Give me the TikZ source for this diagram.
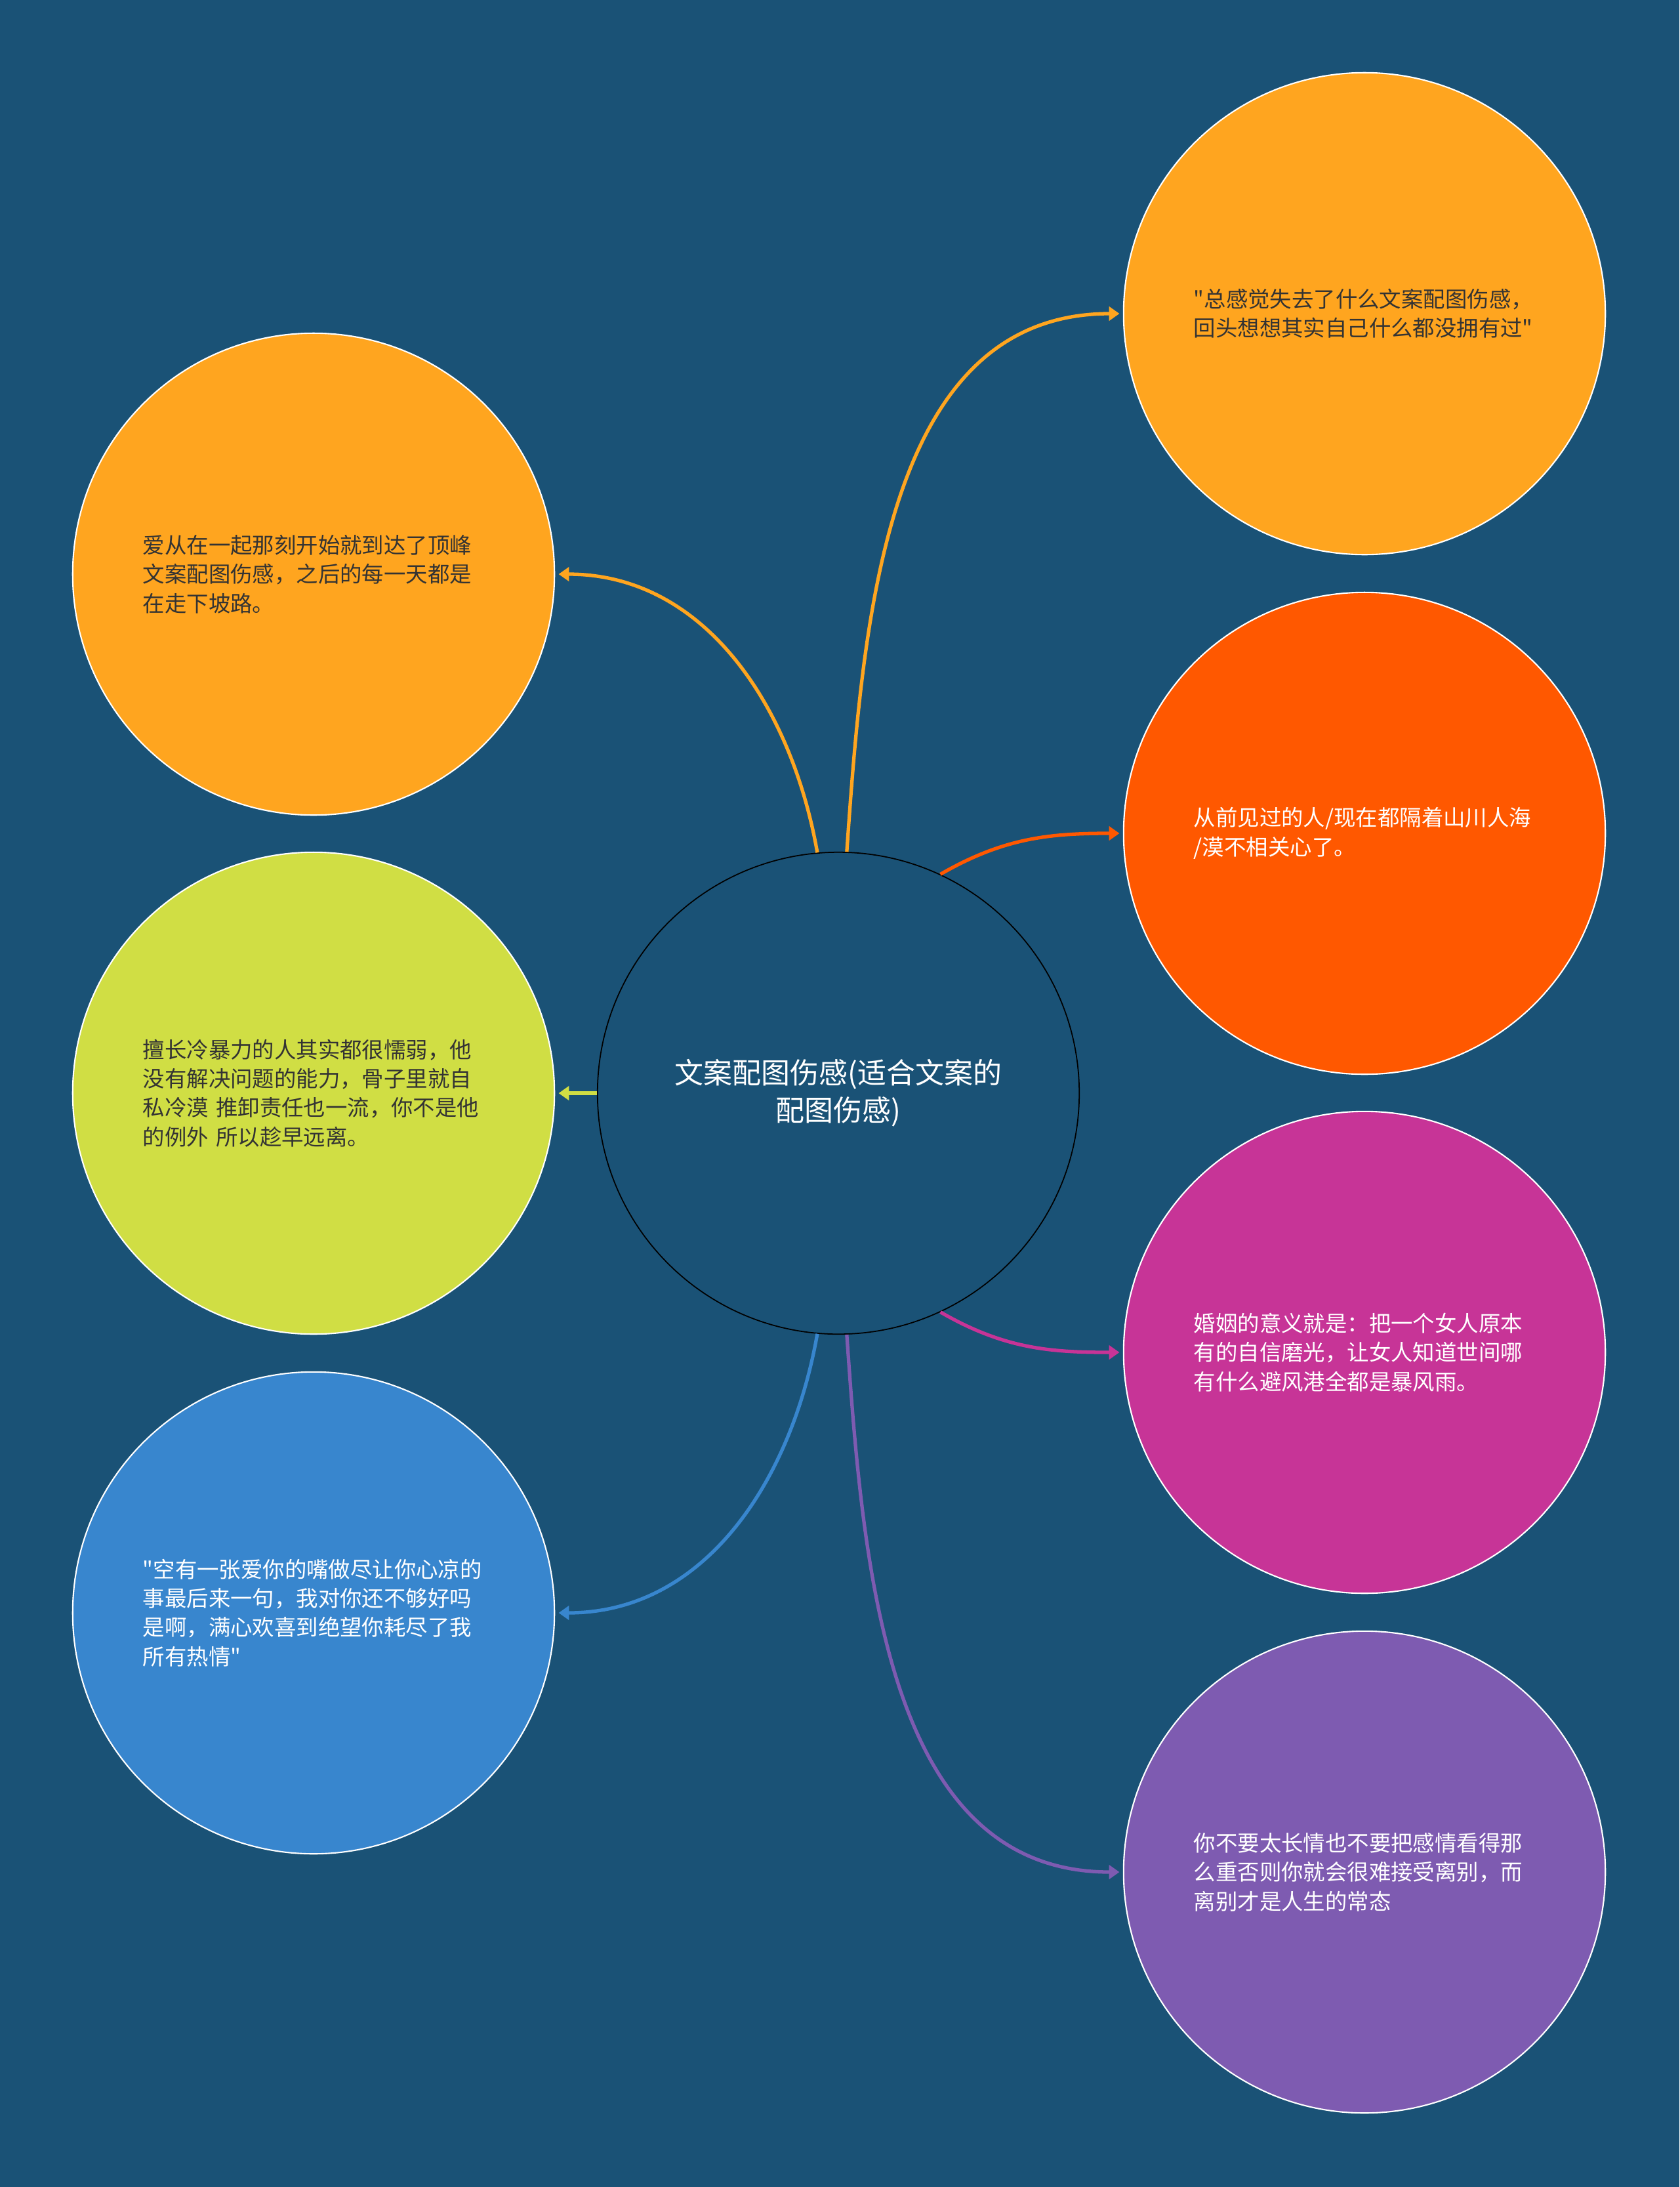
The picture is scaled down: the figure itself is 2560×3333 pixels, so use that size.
\documentclass[tikz,border=0pt]{standalone}
\usepackage{fontspec}
\usepackage{tikz}
\usetikzlibrary{arrows.meta}
\setmainfont{Noto Sans CJK SC}[Ligatures=TeXOff]

\definecolor{bgblue}{HTML}{1A5276}
\definecolor{orangeA}{HTML}{FFA51F}
\definecolor{redA}{HTML}{FF5800}
\definecolor{limeA}{HTML}{D0DE44}
\definecolor{magA}{HTML}{C73497}
\definecolor{blueA}{HTML}{3886CE}
\definecolor{purpA}{HTML}{7E5BB1}
\definecolor{darktext}{HTML}{333333}

\begin{document}
\begin{tikzpicture}[x=0.01cm, y=0.01cm,
    root/.style={circle, draw=black, line width=0.5pt, fill=bgblue, minimum size=7.34cm, inner sep=0pt,
        text=white, align=center, font=\fontsize{12.5}{16.3}\selectfont},
    bubble/.style={circle, draw=white, line width=0.6pt, minimum size=7.34cm, inner sep=0pt,
        text width=5.2cm, align=left, font=\fontsize{9.5}{12.6}\selectfont},
    link/.style={line width=1.5pt, -{Triangle[length=4.5pt, width=6pt]}, shorten >=1.5pt}]
            % Background
            \fill[bgblue] (0,0) rectangle (2560,-3333);

            % Nodes
            \node[root] (root) at (1278,-1666) {文案配图伤感(适合文案的\\配图伤感)};
            \node[bubble, fill=orangeA, text=darktext] (n1) at (478,-875) {爱从在一起那刻开始就到达了顶峰\\文案配图伤感，之后的每一天都是\\在走下坡路。};
            \node[bubble, fill=limeA, text=darktext] (n2) at (478,-1666) {擅长冷暴力的人其实都很懦弱，他\\没有解决问题的能力，骨子里就自\\私冷漠 推卸责任也一流，你不是他\\的例外 所以趁早远离。};
            \node[bubble, fill=blueA, text=white] (n3) at (478,-2458) {"空有一张爱你的嘴做尽让你心凉的\\事最后来一句，我对你还不够好吗\\是啊，满心欢喜到绝望你耗尽了我\\所有热情"};
            \node[bubble, fill=orangeA, text=darktext] (n4) at (2080,-478) {"总感觉失去了什么文案配图伤感，\\回头想想其实自己什么都没拥有过"};
            \node[bubble, fill=redA, text=white] (n5) at (2080,-1270) {从前见过的人/现在都隔着山川人海\\/漠不相关心了。};
            \node[bubble, fill=magA, text=white] (n6) at (2080,-2061) {婚姻的意义就是：把一个女人原本\\有的自信磨光，让女人知道世间哪\\有什么避风港全都是暴风雨。};
            \node[bubble, fill=purpA, text=white] (n7) at (2080,-2853) {你不要太长情也不要把感情看得那\\么重否则你就会很难接受离别，而\\离别才是人生的常态};

            % Lines
            \draw[link, draw=orangeA] (root.95) to[out=100, in=0] (n1.east);
            \draw[link, draw=limeA] (root.west) -- (n2.east);
            \draw[link, draw=blueA] (root.-95) to[out=-100, in=0] (n3.east);
            \draw[link, draw=orangeA] (root.88) to[out=86, in=180] (n4.west);
            \draw[link, draw=redA] (root.65) to[out=30, in=180] (n5.west);
            \draw[link, draw=magA] (root.-65) to[out=-30, in=180] (n6.west);
            \draw[link, draw=purpA] (root.-88) to[out=-86, in=180] (n7.west);
\end{tikzpicture}
\end{document}
